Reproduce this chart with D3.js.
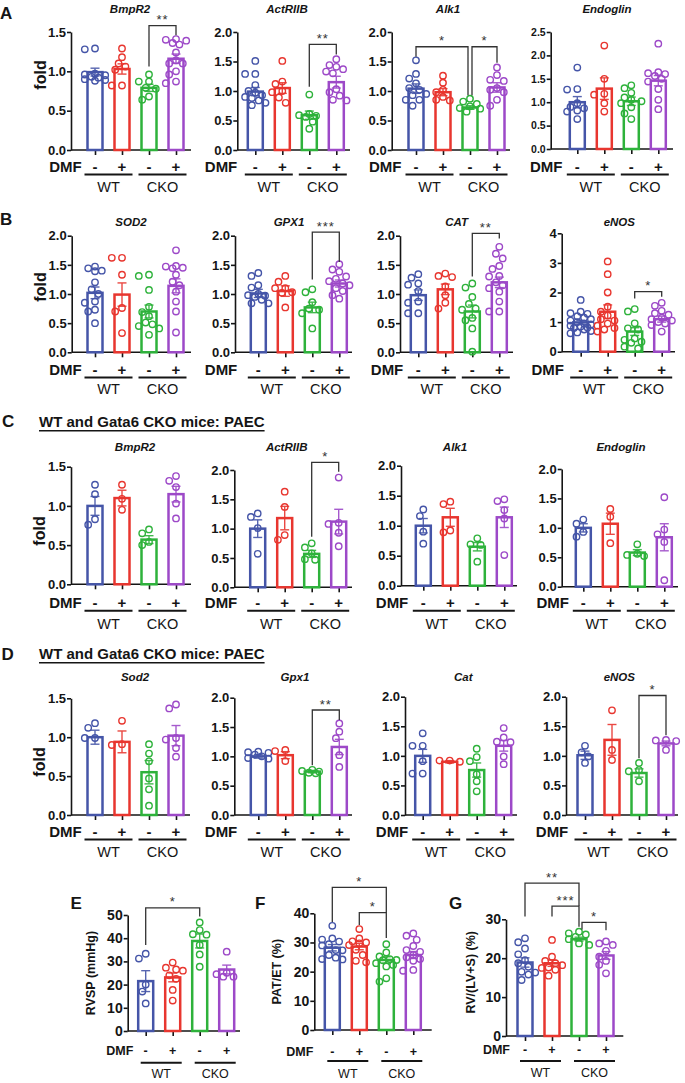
<!DOCTYPE html>
<html><head><meta charset="utf-8">
<script src="https://cdn.jsdelivr.net/npm/d3@7"></script>
<style>body{margin:0;background:#fff}svg{display:block}text{font-family:"Liberation Sans",Arial,sans-serif}</style>
</head><body><svg id="c" width="685" height="1083"></svg>
<script>
// ---------- shared categories ----------
const groupColors = ["#4555a8", "#e8362f", "#2eb23b", "#9d49c8"];
const dmfSigns = ["-", "+", "-", "+"];
const genotypes = ["WT", "CKO"];
const ticks15 = [0, 0.5, 1.0, 1.5];
const ticks20 = [0, 0.5, 1.0, 1.5, 2.0];
const ticks25 = [0, 0.5, 1.0, 1.5, 2.0, 2.5];
const ticks4 = [0, 1, 2, 3, 4];
const ticks50 = [0, 10, 20, 30, 40, 50];
const ticks40 = [0, 10, 20, 30, 40];
const ticks30 = [0, 10, 20, 30];

// ---------- Panel A ----------
const A_BmpR2_points = [[1.29,1.28,0.97,0.96,0.95,0.93,0.92,0.90,0.89,0.88],[1.29,1.18,1.10,1.06,1.02,0.82,0.82],[0.96,0.87,0.87,0.79,0.78,0.68,0.64],[1.41,1.40,1.39,1.36,1.34,1.24,1.14,1.10,1.10,1.00,0.96,0.87,0.85]];
const A_BmpR2_mean = [0.99, 1.03, 0.79, 1.16];
const A_BmpR2_sem = [0.05, 0.065, 0.045, 0.06];
const A_BmpR2_sig = [{a:2,b:3,top:1.58,l:1.06,r:1.46,label:"**"}];

const A_ActRIIB_points = [[1.51,1.29,1.29,1.10,1.00,0.97,0.93,0.90,0.88,0.84,0.80,0.76],[1.51,1.16,1.12,1.00,0.98,0.89,0.80],[0.94,0.61,0.59,0.58,0.56,0.48,0.36],[1.54,1.44,1.41,1.37,1.33,1.30,1.03,0.98,0.92,0.85,0.84]];
const A_ActRIIB_mean = [0.99, 1.05, 0.59, 1.15];
const A_ActRIIB_sem = [0.07, 0.09, 0.07, 0.10];
const A_ActRIIB_sig = [{a:2,b:3,top:1.79,l:1.07,r:1.62,label:"**"}];

const A_Alk1_points = [[1.52,1.29,1.21,1.13,1.05,1.02,0.95,0.93,0.85,0.85,0.75],[1.26,1.14,1.02,0.98,0.90,0.85,0.84],[0.87,0.82,0.78,0.74,0.71,0.70,0.65],[1.40,1.27,1.19,1.17,1.05,1.02,0.98,0.85,0.75]];
const A_Alk1_mean = [1.04, 0.98, 0.72, 1.06];
const A_Alk1_sem = [0.08, 0.06, 0.03, 0.08];
const A_Alk1_sig = [{a:0,b:2,top:1.75,l:1.58,r:0.93,label:"*",db:-2},{a:2,b:3,top:1.75,l:0.93,r:1.48,label:"*",da:2}];

const A_Endoglin_points = [[1.74,1.28,1.27,0.98,0.90,0.87,0.82,0.80,0.64],[2.21,1.50,1.18,1.16,0.98,0.80],[1.36,1.30,1.20,1.10,1.05,1.02,0.98,0.89,0.76,0.64],[2.25,1.64,1.62,1.60,1.56,1.50,1.44,1.28,1.05,0.85]];
const A_Endoglin_mean = [1.00, 1.29, 1.02, 1.46];
const A_Endoglin_sem = [0.12, 0.23, 0.09, 0.11];
const A_Endoglin_sig = [];

// ---------- Panel B ----------
const B_SOD2_points = [[1.47,1.44,1.40,1.39,1.20,1.08,1.00,0.87,0.85,0.73,0.70,0.50],[1.62,1.62,1.33,0.76,0.70,0.33],[1.33,1.31,1.07,0.78,0.69,0.62,0.51,0.48,0.45,0.41,0.30],[1.75,1.48,1.47,1.45,1.44,1.33,1.21,1.15,1.04,0.87,0.70,0.34]];
const B_SOD2_mean = [1.02, 0.99, 0.70, 1.14];
const B_SOD2_sem = [0.10, 0.20, 0.11, 0.12];
const B_SOD2_sig = [];

const B_GPX1_points = [[1.36,1.31,1.15,1.11,1.00,0.98,0.97,0.95,0.90,0.84,0.84],[1.31,1.21,1.10,1.10,1.03,1.02,0.77],[1.08,1.03,0.86,0.75,0.73,0.67,0.41],[1.51,1.42,1.38,1.30,1.26,1.22,1.18,1.15,1.10,1.05,0.98,0.92]];
const B_GPX1_mean = [1.01, 1.05, 0.77, 1.18];
const B_GPX1_sem = [0.07, 0.09, 0.09, 0.06];
const B_GPX1_sig = [{a:2,b:3,top:2.06,l:1.25,r:1.55,label:"***"}];

const B_CAT_points = [[1.34,1.28,1.18,1.16,1.05,0.87,0.85,0.67,0.67],[1.35,1.31,1.29,1.13,0.98,0.85,0.75],[1.18,1.11,0.95,0.83,0.75,0.73,0.59,0.55,0.41,0.01],[1.81,1.69,1.61,1.48,1.43,1.31,1.30,1.20,1.15,1.10,1.04,0.87,0.70,0.70]];
const B_CAT_mean = [0.98, 1.08, 0.70, 1.20];
const B_CAT_sem = [0.09, 0.09, 0.11, 0.09];
const B_CAT_sig = [{a:2,b:3,top:2.04,l:1.30,r:1.95,label:"**"}];

const B_eNOS_points = [[1.75,1.35,1.30,1.28,1.20,1.15,1.10,1.05,1.00,0.95,0.92,0.88,0.85,0.82,0.80,0.75,0.70,0.65,0.62],[3.05,2.62,2.00,1.52,1.35,1.22,1.10,1.05,0.95,0.88,0.80,0.75,0.68],[1.44,1.36,0.96,0.79,0.75,0.45,0.40,0.34,0.30,0.17,0.11],[1.65,1.55,1.38,1.30,1.25,1.15,1.10,1.05,1.00,0.95,0.90,0.68]];
const B_eNOS_mean = [0.99, 1.35, 0.68, 1.10];
const B_eNOS_sem = [0.07, 0.23, 0.13, 0.10];
const B_eNOS_sig = [{a:2,b:3,top:2.03,l:1.80,r:1.86,label:"*"}];

// ---------- Panel C ----------
const C_BmpR2_points = [[1.27,1.15,0.83,0.76],[1.27,1.09,0.95],[0.70,0.65,0.54,0.50],[1.38,1.32,1.24,1.03,0.84]];
const C_BmpR2_mean = [1.00, 1.10, 0.57, 1.15];
const C_BmpR2_sem = [0.12, 0.10, 0.05, 0.10];
const C_BmpR2_sig = [];

const C_ActRIIB_points = [[1.26,1.20,1.01,0.57],[1.63,1.37,0.89,0.81],[0.75,0.68,0.58,0.48,0.47],[1.87,1.10,1.08,0.93,0.70]];
const C_ActRIIB_mean = [1.00, 1.18, 0.57, 1.12];
const C_ActRIIB_sem = [0.15, 0.20, 0.06, 0.21];
const C_ActRIIB_sig = [{a:2,b:3,top:2.13,l:0.86,r:1.97,label:"*"}];

const C_Alk1_points = [[1.27,1.16,0.90,0.70],[1.40,1.36,0.92,0.89],[0.79,0.69,0.68,0.40],[1.44,1.41,1.26,1.12,0.51]];
const C_Alk1_mean = [1.00, 1.14, 0.65, 1.14];
const C_Alk1_sem = [0.12, 0.15, 0.07, 0.17];
const C_Alk1_sig = [];

const C_Endoglin_points = [[1.14,1.07,0.93,0.85],[1.32,1.19,0.74],[0.72,0.56,0.54,0.52],[1.52,0.97,0.89,0.76,0.11]];
const C_Endoglin_mean = [1.00, 1.07, 0.58, 0.84];
const C_Endoglin_sem = [0.07, 0.18, 0.05, 0.23];
const C_Endoglin_sig = [];

// ---------- Panel D ----------
const D_Sod2_points = [[1.18,1.12,0.99,0.99],[1.21,0.91,0.90],[0.91,0.79,0.69,0.47,0.33,0.12],[1.42,1.37,0.99,0.97,0.86,0.75]];
const D_Sod2_mean = [1.00, 0.94, 0.55, 1.02];
const D_Sod2_sem = [0.09, 0.14, 0.15, 0.13];
const D_Sod2_sig = [];

const D_Gpx1_points = [[1.08,1.07,1.06,1.03,1.00,0.97,0.96],[1.11,1.09,0.92],[0.77,0.75,0.74,0.72,0.71],[1.56,1.42,1.31,1.02,0.82]];
const D_Gpx1_mean = [1.00, 1.02, 0.74, 1.16];
const D_Gpx1_sem = [0.03, 0.06, 0.02, 0.13];
const D_Gpx1_sig = [{a:2,b:3,top:1.79,l:0.85,r:1.62,label:"**"}];

const D_Cat_points = [[1.38,1.17,1.17,0.91,0.70,0.70],[0.92,0.92,0.90],[1.12,0.98,0.91,0.69,0.57,0.40],[1.47,1.31,1.24,1.23,0.99,0.86]];
const D_Cat_mean = [1.00, 0.90, 0.76, 1.17];
const D_Cat_sem = [0.11, 0.02, 0.12, 0.09];
const D_Cat_sig = [];

const D_eNOS_points = [[1.17,1.06,0.99,0.88],[1.77,1.10,0.93],[0.88,0.76,0.74,0.57],[1.27,1.26,1.25,1.10]];
const D_eNOS_mean = [1.01, 1.27, 0.71, 1.21];
const D_eNOS_sem = [0.07, 0.26, 0.07, 0.04];
const D_eNOS_sig = [{a:2,b:3,top:2.02,l:0.96,r:1.35,label:"*"}];

// ---------- Panels E, F, G ----------
const E_RVSP_points = [[33.3,31.2,20.0,17.0,11.9],[29.5,27.3,26.5,26.0,24.0,22.5,17.7,13.1],[46.8,43.5,41.7,41.5,37.1,33.0,27.7],[34.2,25.1,24.5,23.4,23.4]];
const E_RVSP_mean = [21.5, 23.1, 38.8, 26.5];
const E_RVSP_sem = [4.5, 1.9, 3.0, 1.9];
const E_RVSP_sig = [{a:0,b:2,top:53.1,l:37.1,r:49.3,label:"*"}];

const F_PATET_points = [[35.7,31.4,31.0,30.3,29.4,29.0,27.4,27.3,25.7,24.8,24.3,24.2],[34.6,31.4,30.4,30.0,29.7,29.1,27.5,25.7,23.7,23.2],[29.4,26.6,25.2,24.3,24.0,23.9,22.9,22.3,21.8,17.7,16.6],[33.1,32.3,30.9,28.8,27.4,26.8,25.7,24.9,24.3,23.7,20.6,20.3]];
const F_PATET_mean = [28.2, 28.6, 24.0, 25.7];
const F_PATET_sem = [1.1, 1.1, 1.1, 1.2];
const F_PATET_sig = [{a:0,b:2,top:48.9,l:37.0,r:40.2,label:"*"},{a:1,b:2,top:40.2,l:36.0,r:31.5,label:"*"}];

const G_RV_points = [[25.1,24.1,22.5,21.0,19.5,18.7,17.8,16.5,16.3,15.8,14.4],[24.7,20.4,19.3,18.7,18.2,17.6,17.5,17.0,15.5],[26.8,26.4,26.1,25.5,24.9,23.8,23.4],[24.3,23.8,23.4,21.9,20.4,19.3,18.3,16.1]];
const G_RV_mean = [18.9, 18.7, 24.9, 20.7];
const G_RV_sem = [1.2, 0.8, 0.5, 1.0];
const G_RV_sig = [{a:0,b:2,top:39.3,l:30.7,r:33.4,label:"**"},{a:1,b:2,top:33.4,l:30.7,r:28.1,label:"***"},{a:2,b:3,top:29.2,l:27.4,r:27.2,label:"*",da:3}];

// ---------- layout (positions only) ----------
const rowA = {titleY:12.5, dmfY:167, lineY:174.5, gtY:187, big:true};
const rowB = {titleY:226, dmfY:370, lineY:377.5, gtY:389, big:true};
const rowC = {titleY:451, dmfY:602.7, lineY:610.7, gtY:623.3, big:true};
const rowD = {titleY:681, dmfY:832, lineY:839.5, gtY:852, big:true};

const panels = [
  {title:"BmpR2", ticks:ticks15, fmt:".1f", pts:A_BmpR2_points, mean:A_BmpR2_mean, sem:A_BmpR2_sem, sig:A_BmpR2_sig, row:rowA, L:{ax:71, x0:95, axEnd:191, yt:32, yb:150, tx:130, dmf:81.7, tf:13}},
  {title:"ActRIIB", ticks:ticks20, fmt:".1f", pts:A_ActRIIB_points, mean:A_ActRIIB_mean, sem:A_ActRIIB_sem, sig:A_ActRIIB_sig, row:rowA, L:{ax:237.3, x0:255.3, axEnd:350, yt:32, yb:150, tx:287, dmf:237.3, tf:13}},
  {title:"Alk1", ticks:ticks20, fmt:".1f", pts:A_Alk1_points, mean:A_Alk1_mean, sem:A_Alk1_sem, sig:A_Alk1_sig, row:rowA, L:{ax:391.7, x0:416, axEnd:510, yt:32, yb:150, tx:448, dmf:401.5, tf:13}},
  {title:"Endoglin", ticks:ticks25, fmt:".1f", pts:A_Endoglin_points, mean:A_Endoglin_mean, sem:A_Endoglin_sem, sig:A_Endoglin_sig, row:rowA, L:{ax:550.7, x0:577.3, axEnd:673, yt:32, yb:149, tx:607, dmf:562.5, tf:10.5}},

  {title:"SOD2", ticks:ticks20, fmt:".1f", pts:B_SOD2_points, mean:B_SOD2_mean, sem:B_SOD2_sem, sig:B_SOD2_sig, row:rowB, L:{ax:71.7, x0:95, axEnd:191, yt:235.7, yb:352.3, tx:131, dmf:81.7, tf:13}},
  {title:"GPX1", ticks:ticks20, fmt:".1f", pts:B_GPX1_points, mean:B_GPX1_mean, sem:B_GPX1_sem, sig:B_GPX1_sig, row:rowB, L:{ax:235, x0:258.3, axEnd:352, yt:235.7, yb:352.3, tx:289, dmf:237.3, tf:13}},
  {title:"CAT", ticks:ticks20, fmt:".1f", pts:B_CAT_points, mean:B_CAT_mean, sem:B_CAT_sem, sig:B_CAT_sig, row:rowB, L:{ax:400, x0:418.3, axEnd:513, yt:235.7, yb:352.3, tx:456.7, dmf:403.3, tf:13}},
  {title:"eNOS", ticks:ticks4, fmt:"d", pts:B_eNOS_points, mean:B_eNOS_mean, sem:B_eNOS_sem, sig:B_eNOS_sig, row:rowB, L:{ax:561.7, x0:580.7, axEnd:675, yt:233.3, yb:351.7, tx:619.3, dmf:564, tf:13}},

  {title:"BmpR2", ticks:ticks15, fmt:".1f", pts:C_BmpR2_points, mean:C_BmpR2_mean, sem:C_BmpR2_sem, sig:C_BmpR2_sig, row:rowC, L:{ax:71, x0:95, axEnd:191, yt:466.7, yb:584.3, tx:135, dmf:81.7, tf:13}},
  {title:"ActRIIB", ticks:ticks20, fmt:".1f", pts:C_ActRIIB_points, mean:C_ActRIIB_mean, sem:C_ActRIIB_sem, sig:C_ActRIIB_sig, row:rowC, L:{ax:234.3, x0:257.7, axEnd:352, yt:470, yb:587.3, tx:286.7, dmf:237.3, tf:13}},
  {title:"Alk1", ticks:ticks20, fmt:".1f", pts:C_Alk1_points, mean:C_Alk1_mean, sem:C_Alk1_sem, sig:C_Alk1_sig, row:rowC, L:{ax:401, x0:423.3, axEnd:517, yt:465.7, yb:585.7, tx:455, dmf:408.3, tf:13}},
  {title:"Endoglin", ticks:ticks20, fmt:".1f", pts:C_Endoglin_points, mean:C_Endoglin_mean, sem:C_Endoglin_sem, sig:C_Endoglin_sig, row:rowC, L:{ax:561.7, x0:583.3, axEnd:678, yt:469, yb:586.7, tx:621, dmf:569, tf:13}},

  {title:"Sod2", ticks:ticks15, fmt:".1f", pts:D_Sod2_points, mean:D_Sod2_mean, sem:D_Sod2_sem, sig:D_Sod2_sig, row:rowD, L:{ax:71, x0:95, axEnd:190, yt:698.3, yb:815, tx:135, dmf:81.7, tf:13}},
  {title:"Gpx1", ticks:ticks20, fmt:".1f", pts:D_Gpx1_points, mean:D_Gpx1_mean, sem:D_Gpx1_sem, sig:D_Gpx1_sig, row:rowD, L:{ax:234.3, x0:258.3, axEnd:352, yt:697.7, yb:815, tx:295, dmf:237.3, tf:13}},
  {title:"Cat", ticks:ticks20, fmt:".1f", pts:D_Cat_points, mean:D_Cat_mean, sem:D_Cat_sem, sig:D_Cat_sig, row:rowD, L:{ax:405, x0:422.7, axEnd:517, yt:696.7, yb:815, tx:463.3, dmf:408.3, tf:13}},
  {title:"eNOS", ticks:ticks20, fmt:".1f", pts:D_eNOS_points, mean:D_eNOS_mean, sem:D_eNOS_sem, sig:D_eNOS_sig, row:rowD, L:{ax:566, x0:585, axEnd:678, yt:696.7, yb:815, tx:619.3, dmf:568.3, tf:13}},

  {title:"", ylab:"RVSP (mmHg)", ticks:ticks50, fmt:"d", pts:E_RVSP_points, mean:E_RVSP_mean, sem:E_RVSP_sem, sig:E_RVSP_sig, row:{dmfY:1050, lineY:1062.7, gtY:1073.3, big:false}, L:{ax:127.7, x0:145.7, axEnd:240, yt:915, yb:1031, dmf:133.3, tf:14, ylx:90, yly:973}},
  {title:"", ylab:"PAT/ET (%)", ticks:ticks40, fmt:"d", pts:F_PATET_points, mean:F_PATET_mean, sem:F_PATET_sem, sig:F_PATET_sig, row:{dmfY:1051, lineY:1061, gtY:1073.3, big:false}, L:{ax:314.3, x0:332.3, axEnd:431.7, yt:913.3, yb:1030, dmf:313.3, tf:14, ylx:276.7, yly:971.7}},
  {title:"", ylab:"RV/(LV+S) (%)", ticks:ticks30, fmt:"d", pts:G_RV_points, mean:G_RV_mean, sem:G_RV_sem, sig:G_RV_sig, row:{dmfY:1049.5, lineY:1061, gtY:1072.7, big:false}, L:{ax:506, x0:525, axEnd:623.3, yt:919.3, yb:1036, dmf:510, tf:14, ylx:470, yly:972.3}}
];

const svg = d3.select("#c");
svg.append("rect").attr("width",685).attr("height",1083).attr("fill","#fff");
const INK = "#151515";
const STEP = 27, BW = 15, R = 3.2;

// compact swarm: points stay within the bar, overlap allowed when crowded
function swarm(vals, y) {
  const order = vals.map((v, i) => ({v, i})).sort((a, b) => b.v - a.v);
  const placed = [], out = new Array(vals.length);
  const minD = 2 * R + 0.6, maxOff = 10.5, stepX = 3.4;
  const cands = [0];
  for (let k = 1; k * stepX <= maxOff + 0.01; k++) { cands.push(-k * stepX, k * stepX); }
  for (const o of order) {
    const py = y(o.v);
    let best = null, bestScore = -1;
    for (const c of cands) {
      const md = placed.length ? d3.min(placed, p => Math.hypot(p.x - c, p.y - py)) : Infinity;
      if (md >= minD) { best = c; break; }
      if (md > bestScore) { bestScore = md; best = c; }
    }
    placed.push({x: best, y: py});
    out[o.i] = best;
  }
  return out;
}

function drawPanel(p) {
  const L = p.L, row = p.row;
  const g = svg.append("g");
  const y = d3.scaleLinear().domain([0, d3.max(p.ticks)]).range([L.yb, L.yt]);
  const x = d3.scalePoint().domain(d3.range(4)).range([L.x0, L.x0 + 3 * STEP]);

  const ya = g.append("g").attr("transform", `translate(${L.ax},0)`)
    .call(d3.axisLeft(y).tickValues(p.ticks).tickFormat(d3.format(p.fmt)).tickSize(4).tickSizeOuter(0).tickPadding(1));
  ya.attr("font-family", null);
  ya.select(".domain").attr("stroke", INK).attr("stroke-width", 1.6);
  ya.selectAll(".tick line").attr("stroke", INK).attr("stroke-width", 1.6);
  ya.selectAll(".tick text").attr("fill", INK)
    .style("font-size", L.tf + "px").style("font-weight", "bold");

  const xa = g.append("g").attr("transform", `translate(0,${L.yb})`)
    .call(d3.axisBottom(x).tickSize(5).tickSizeOuter(0).tickFormat(""));
  xa.select(".domain").attr("d", `M${L.ax},0H${L.axEnd}`).attr("stroke", INK).attr("stroke-width", 1.6);
  xa.selectAll(".tick line").attr("stroke", INK).attr("stroke-width", 1.6);

  g.selectAll(".bar").data(p.mean).join("rect")
    .attr("x", (d, i) => x(i) - BW / 2).attr("y", d => y(d))
    .attr("width", BW).attr("height", d => y(0) - y(d))
    .attr("fill", "none").attr("stroke", (d, i) => groupColors[i]).attr("stroke-width", 2.5);

  p.mean.forEach((m, i) => {
    const s = p.sem[i], cx = x(i), c = groupColors[i];
    const e = g.append("g").attr("stroke", c).attr("stroke-width", 1.4).attr("opacity", 0.9);
    e.append("line").attr("x1", cx).attr("x2", cx).attr("y1", y(m - s)).attr("y2", y(m + s));
    e.append("line").attr("x1", cx - 4.5).attr("x2", cx + 4.5).attr("y1", y(m + s)).attr("y2", y(m + s));
    e.append("line").attr("x1", cx - 4.5).attr("x2", cx + 4.5).attr("y1", y(m - s)).attr("y2", y(m - s));
  });

  p.pts.forEach((vals, i) => {
    const off = swarm(vals, y);
    g.append("g").selectAll("circle").data(vals).join("circle")
      .attr("cx", (d, k) => x(i) + off[k]).attr("cy", d => y(d)).attr("r", R)
      .attr("fill", "none").attr("stroke", groupColors[i]).attr("stroke-width", 1.4);
  });

  if (p.title) {
    g.append("text").attr("x", L.tx).attr("y", row.titleY).attr("text-anchor", "middle")
      .style("font-size", "11.5px").style("font-weight", "bold").style("font-style", "italic")
      .attr("fill", INK).text(p.title);
  }

  const fs = row.big ? 15 : 12.5;
  g.append("text").attr("x", L.dmf).attr("y", row.dmfY).attr("dy", "0.36em").attr("text-anchor", "end")
    .style("font-size", fs + "px").style("font-weight", "bold").attr("fill", INK).text("DMF");
  g.selectAll(".sg").data(dmfSigns).join("text")
    .attr("x", (d, i) => x(i)).attr("y", row.dmfY).attr("dy", "0.36em").attr("text-anchor", "middle")
    .style("font-size", fs + "px").style("font-weight", "bold").attr("fill", INK).text(d => d);
  const lw = row.big ? [10.5, 10.5] : [5, 9];
  genotypes.forEach((gt, j) => {
    const a = x(2 * j), b = x(2 * j + 1);
    g.append("line").attr("x1", a - lw[0]).attr("x2", b + lw[1]).attr("y1", row.lineY).attr("y2", row.lineY)
      .attr("stroke", INK).attr("stroke-width", 2);
    g.append("text").attr("x", (a + b) / 2 + (row.big ? 0 : 2)).attr("y", row.gtY).attr("dy", "0.36em").attr("text-anchor", "middle")
      .style("font-size", (row.big ? 14.5 : 12.5) + "px").attr("fill", INK).text(gt);
  });

  if (p.ylab) {
    g.append("text").attr("transform", `translate(${L.ylx},${L.yly}) rotate(-90)`)
      .attr("text-anchor", "middle").attr("dy", "0.36em")
      .style("font-size", "12.5px").style("font-weight", "bold").attr("fill", INK).text(p.ylab);
  }

  p.sig.forEach(s => {
    const xa_ = x(s.a) + (s.da || 0), xb_ = x(s.b) + (s.db || 0);
    g.append("path").attr("d", `M${xa_},${y(s.l)}V${y(s.top)}H${xb_}V${y(s.r)}`)
      .attr("fill", "none").attr("stroke", "#333").attr("stroke-width", 1.3);
    g.append("text").attr("x", (xa_ + xb_) / 2).attr("y", y(s.top) - 1.5).attr("text-anchor", "middle")
      .style("font-size", "13px").style("letter-spacing", "1px").attr("fill", "#333").text(s.label);
  });
}

panels.forEach(drawPanel);

[[40.5, 75], [40.5, 287], [39, 531], [39, 762]].forEach(([fx, fy]) => {
  svg.append("text").attr("transform", `translate(${fx},${fy}) rotate(-90)`).attr("text-anchor", "middle")
    .attr("dy", "0.36em").style("font-size", "16px").style("font-weight", "bold").attr("fill", INK).text("fold");
});

[["A", 0, 18.5], ["B", 0, 225], ["C", 2, 427], ["D", 1.5, 659.5], ["E", 70.5, 908.5], ["F", 255, 908.5], ["G", 449, 908.5]].forEach(([t, lx, ly]) => {
  svg.append("text").attr("x", lx).attr("y", ly).style("font-size", "17px").style("font-weight", "bold").attr("fill", INK).text(t);
});

[[427.3, 430.7], [659.3, 662.7]].forEach(([hy, uy]) => {
  const t = svg.append("text").attr("x", 39).attr("y", hy).style("font-size", "15px").style("font-weight", "bold")
    .attr("fill", INK).text("WT and Gata6 CKO mice: PAEC");
  const len = t.node().getComputedTextLength();
  svg.append("line").attr("x1", 39).attr("x2", 39 + len).attr("y1", uy).attr("y2", uy).attr("stroke", INK).attr("stroke-width", 1.4);
});
</script></body></html>
